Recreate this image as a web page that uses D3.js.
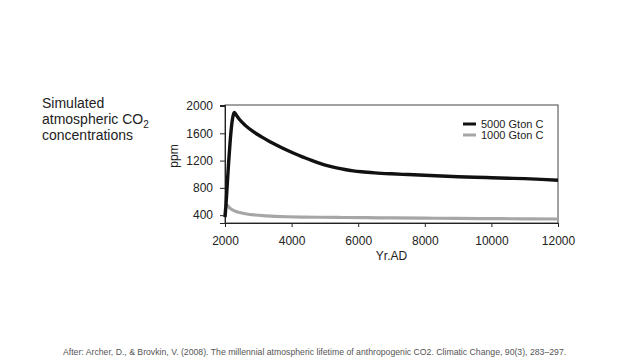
<!DOCTYPE html>
<html>
<head>
<meta charset="utf-8">
<script src="https://cdn.jsdelivr.net/npm/d3@7"></script>
<style>
  html, body { margin: 0; padding: 0; background: #ffffff; }
  svg { display: block; font-family: "Liberation Sans", Arial, sans-serif; }
</style>
</head>
<body>
<svg id="chart" width="640" height="360"></svg>
<script>
// ---- data ----
const yearsHigh = [2000, 2030, 2070, 2110, 2150, 2200, 2250, 2280, 2350, 2450, 2600, 2850, 3100, 3350, 3600, 3850, 4100, 4350, 4600, 4850, 5100, 5350, 5600, 5850, 6100, 6500, 7000, 7500, 8000, 8500, 9000, 9500, 10000, 10500, 11000, 11500, 12000];
const ppmHigh   = [370, 550, 870, 1180, 1450, 1720, 1870, 1905, 1860, 1795, 1720, 1624, 1548, 1477, 1414, 1355, 1300, 1250, 1202, 1160, 1123, 1093, 1069, 1050, 1036, 1020, 1006, 995, 984, 974, 964, 956, 949, 942, 935, 925, 912];
const yearsLow  = [2000, 2020, 2060, 2150, 2250, 2350, 2500, 2650, 2900, 3150, 3500, 3850, 4350, 4850, 5500, 6250, 7000, 8000, 9000, 10000, 11000, 12000];
const ppmLow    = [380, 540, 545, 500, 470, 451, 432, 417, 402, 392, 383, 377, 372, 369, 366, 363, 360, 356, 352, 349, 346, 344];
const seriesNames = ["5000 Gton C", "1000 Gton C"];
const xTicks = [2000, 4000, 6000, 8000, 10000, 12000];
const yTicks = [400, 800, 1200, 1600, 2000];
const titleLines = ["Simulated", "atmospheric CO", "concentrations"];
const xLabel = "Yr.AD";
const yLabel = "ppm";
const footer = "After: Archer, D., & Brovkin, V. (2008). The millennial atmospheric lifetime of anthropogenic CO2. Climatic Change, 90(3), 283\u2013297.";

// ---- layout ----
const svg = d3.select("#chart");
const L = 225, R = 558, T = 105, B = 223;
const x = d3.scaleLinear().domain([2000, 12000]).range([L, R]);
const y = d3.scaleLinear().domain([285, 2015]).range([B, T]);

// title
const title = svg.append("g").attr("fill", "#222").attr("font-size", 14);
title.append("text").attr("x", 42).attr("y", 108).text(titleLines[0]);
const t2 = title.append("text").attr("x", 42).attr("y", 124).text(titleLines[1]);
t2.append("tspan").attr("font-size", 10).attr("dy", 4).text("2");
title.append("text").attr("x", 42).attr("y", 140).text(titleLines[2]);

// frame
svg.append("rect").attr("x", L).attr("y", T).attr("width", R - L).attr("height", B - T)
  .attr("fill", "none").attr("stroke", "#444").attr("stroke-width", 1);

// axes
const xAxis = svg.append("g").attr("transform", `translate(0,${B})`)
  .call(d3.axisBottom(x).tickValues(xTicks).tickFormat(d3.format("d")).tickSize(4).tickPadding(9.5));
const yAxis = svg.append("g").attr("transform", `translate(${L},0)`)
  .call(d3.axisLeft(y).tickValues(yTicks).tickFormat(d3.format("d")).tickSize(5).tickPadding(7));
[xAxis, yAxis].forEach(g => {
  g.select(".domain").attr("stroke", "#222");
  g.selectAll(".tick line").attr("stroke", "#222");
  g.selectAll(".tick text").attr("fill", "#222").attr("font-size", 12)
    .attr("font-family", "'Liberation Sans', Arial, sans-serif");
});

// axis labels
svg.append("text").attr("x", (L + R) / 2).attr("y", 260).attr("text-anchor", "middle")
  .attr("font-size", 12).attr("fill", "#222").text(xLabel);
svg.append("text").attr("transform", "translate(178,156) rotate(-90)").attr("text-anchor", "middle")
  .attr("font-size", 12).attr("fill", "#222").text(yLabel);

// lines
const line = d3.line().x(d => x(d[0])).y(d => y(d[1])).curve(d3.curveMonotoneX);
const dataLow = yearsLow.map((v, i) => [v, ppmLow[i]]);
const dataHigh = yearsHigh.map((v, i) => [v, ppmHigh[i]]);
svg.append("path").datum(dataLow).attr("d", line).attr("fill", "none")
  .attr("stroke", "#a6a6a6").attr("stroke-width", 3.2).attr("stroke-linejoin", "round");
svg.append("path").datum(dataHigh).attr("d", line).attr("fill", "none")
  .attr("stroke", "#111").attr("stroke-width", 3.4).attr("stroke-linejoin", "round");

// legend
const colors = ["#111", "#a6a6a6"];
const leg = svg.append("g");
seriesNames.forEach((n, i) => {
  const yy = 124 + i * 11;
  leg.append("line").attr("x1", 463).attr("x2", 476).attr("y1", yy).attr("y2", yy)
    .attr("stroke", colors[i]).attr("stroke-width", 3);
  leg.append("text").attr("x", 481).attr("y", yy + 4).attr("font-size", 11)
    .attr("fill", "#222").text(n);
});

// footer
svg.append("text").attr("x", 63).attr("y", 355).attr("font-size", 8.7).attr("fill", "#555").text(footer);
</script>
</body>
</html>
